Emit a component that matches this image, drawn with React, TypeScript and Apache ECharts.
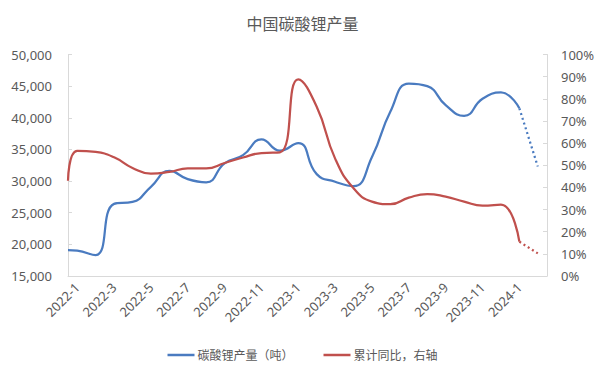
import React, { useEffect, useRef } from "react";
import * as echarts from "echarts";

const months: string[] = [
  "2022-1", "2022-2", "2022-3", "2022-4", "2022-5", "2022-6", "2022-7", "2022-8", "2022-9", "2022-10", "2022-11", "2022-12",
  "2023-1", "2023-2", "2023-3", "2023-4", "2023-5", "2023-6", "2023-7", "2023-8", "2023-9", "2023-10", "2023-11", "2023-12",
  "2024-1", "2024-2",
];

// 碳酸锂产量（吨）, last value is the forecast (dotted)
const production: number[] = [
  19000, 18300, 26400, 26700, 29100, 31600, 30300, 29800, 32800, 34100, 36600, 34800,
  36000, 31100, 29900, 29200, 33800, 41000, 45400, 45000, 42000, 40300, 43000, 44000,
  41500, 32300,
];

// 累计同比 (%), last value is the forecast (dotted)
const yoy: number[] = [
  56.5, 56, 53.6, 48.8, 46.2, 47, 48.6, 48.6, 51, 53.5, 55.5, 55.8,
  88.8, 76.4, 53, 39.6, 33.6, 32.4, 35.4, 37, 35.8, 33.6, 31.8, 32.2,
  15.5, 10.2,
];

// values at the left edge of the axis (start of 2022-1)
const productionStart = 19100;
const yoyStart = 43;

const forecastCount = 1;

const BLUE = "#4A7BC0";
const RED = "#C0504D";
const TEXT = "#595959";
const AXIS = "#D9D9D9";

export default function App() {
  const ref = useRef<HTMLDivElement>(null);

  useEffect(() => {
    if (!ref.current) return;
    const chart = echarts.init(ref.current, undefined, { renderer: "svg" });
    const n = months.length;
    const solidEnd = n - forecastCount; // exclusive
    const toPts = (arr: number[], start: number) => {
      const solid: [number, number][] = [[0, start]];
      for (let i = 0; i < solidEnd; i++) solid.push([i + 0.5, arr[i]]);
      const fc: [number, number][] = [];
      for (let i = solidEnd - 1; i < n; i++) fc.push([i + 0.5, arr[i]]);
      return { solid, fc };
    };
    const b = toPts(production, productionStart);
    const r = toPts(yoy, yoyStart);
    const font = "'Noto Sans', 'Noto Sans CJK SC', sans-serif";
    const SMOOTH = 0.5;

    chart.setOption({
      animation: false,
      textStyle: { fontFamily: font, color: TEXT },
      title: {
        text: "中国碳酸锂产量",
        left: "center",
        top: 11,
        textStyle: { fontSize: 16, fontWeight: "normal", color: TEXT, fontFamily: font },
      },
      legend: {
        data: ["碳酸锂产量（吨）", "累计同比，右轴"],
        bottom: 12,
        left: "center",
        icon: "rect",
        itemWidth: 27,
        itemHeight: 2.5,
        itemGap: 30,
        textStyle: { fontSize: 12, color: TEXT, fontFamily: font, padding: [0, 0, 0, -2] },
      },
      grid: { left: 68, right: 58, top: 54.5, bottom: 102, containLabel: false },
      xAxis: [
        {
          type: "category",
          data: months,
          boundaryGap: true,
          axisLine: { lineStyle: { color: AXIS, width: 1 } },
          axisTick: { inside: true, length: 5, interval: 1, lineStyle: { color: AXIS } },
          axisLabel: { interval: 1, rotate: 45, fontSize: 13, color: TEXT, margin: 9, fontFamily: font },
          splitLine: { show: false },
        },
        {
          type: "value",
          min: 0,
          max: n,
          show: false,
          splitLine: { show: false },
        },
      ],
      yAxis: [
        {
          type: "value",
          min: 15000,
          max: 50000,
          interval: 5000,
          axisLine: { show: true, lineStyle: { color: AXIS } },
          axisTick: { show: true, inside: true, length: 4, lineStyle: { color: AXIS } },
          axisLabel: {
            fontSize: 13,
            color: TEXT,
            margin: 16,
            fontFamily: font,
            formatter: (v: number) => v.toLocaleString("en-US"),
          },
          splitLine: { show: false },
        },
        {
          type: "value",
          min: 0,
          max: 100,
          interval: 10,
          position: "right",
          axisLine: { show: true, lineStyle: { color: AXIS } },
          axisTick: { show: true, inside: true, length: 4, lineStyle: { color: AXIS } },
          axisLabel: { fontSize: 13, color: TEXT, margin: 14, fontFamily: font, formatter: "{value}%" },
          splitLine: { show: false },
        },
      ],
      series: [
        {
          name: "碳酸锂产量（吨）",
          type: "line",
          xAxisIndex: 1,
          yAxisIndex: 0,
          data: b.solid,
          smooth: SMOOTH,
          symbol: "none",
          color: BLUE,
          lineStyle: { color: BLUE, width: 2.25 },
        },
        {
          name: "碳酸锂产量预测",
          type: "line",
          xAxisIndex: 1,
          yAxisIndex: 0,
          data: b.fc,
          symbol: "none",
          color: BLUE,
          lineStyle: { color: BLUE, width: 2.25, type: [2, 3] },
        },
        {
          name: "累计同比，右轴",
          type: "line",
          xAxisIndex: 1,
          yAxisIndex: 1,
          data: r.solid,
          smooth: SMOOTH,
          symbol: "none",
          color: RED,
          lineStyle: { color: RED, width: 2.25 },
        },
        {
          name: "累计同比预测",
          type: "line",
          xAxisIndex: 1,
          yAxisIndex: 1,
          data: r.fc,
          symbol: "none",
          color: RED,
          lineStyle: { color: RED, width: 2.25, type: [2, 3] },
        },
      ],
    });
    return () => chart.dispose();
  }, []);

  return (
    <div
      ref={ref}
      style={{ position: "fixed", left: 0, top: 0, width: 605, height: 378, background: "#fff" }}
    />
  );
}
